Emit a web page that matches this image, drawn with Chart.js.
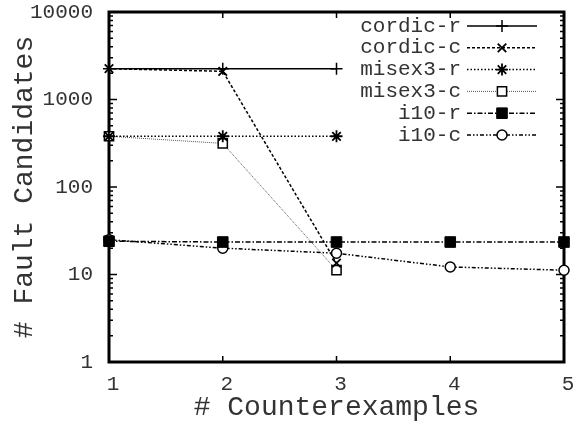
<!DOCTYPE html>
<html lang="en">
<head>
    <meta charset="UTF-8">
    <title>Fault Candidates</title>
    <script src="https://cdn.jsdelivr.net/npm/chart.js"></script>
    <style>
        html, body { margin: 0; padding: 0; background: #fff; }
        #wrap { width: 587px; height: 426px; }
    </style>
</head>
<body>
<div id="wrap"><canvas id="faultChart" width="587" height="426"></canvas></div>
<script>
// values
const counterexamples = [1, 2, 3, 4, 5];
const seriesNames = ['cordic-r', 'cordic-c', 'misex3-r', 'misex3-c', 'i10-r', 'i10-c'];
const cordicR = [2250, 2250, 2250];
const cordicC = [2250, 2100, 13.5];
const misex3R = [380, 380, 380];
const misex3C = [380, 315, 11.2];
const i10R = [24, 23.5, 23.5, 23.5, 23.5];
const i10C = [25, 20, 17.5, 12.2, 11.2];
const yTickValues = [1, 10, 100, 1000, 10000];

const monoFont = "'Liberation Mono', 'Courier New', Courier, 'Nimbus Mono PS', FreeMono, monospace";

function toPoints(values) {
    return values.map((v, i) => ({ x: counterexamples[i], y: v }));
}

const datasets = [
    { label: seriesNames[0], data: toPoints(cordicR), borderColor: '#000', borderWidth: 1.5, borderDash: [],
      pointStyle: 'cross', pointRadius: 6, pointBorderWidth: 1.5, pointBackgroundColor: '#000' },
    { label: seriesNames[1], data: toPoints(cordicC), borderColor: '#000', borderWidth: 1.5, borderDash: [3, 2],
      pointStyle: 'crossRot', pointRadius: 6, pointBorderWidth: 1.8, pointBackgroundColor: '#000' },
    { label: seriesNames[2], data: toPoints(misex3R), borderColor: '#000', borderWidth: 1.5, borderDash: [1.5, 2],
      pointStyle: 'star', pointRadius: 6, pointBorderWidth: 1.8, pointBackgroundColor: '#000' },
    { label: seriesNames[3], data: toPoints(misex3C), borderColor: '#555', borderWidth: 1, borderDash: [1, 1],
      pointStyle: 'rect', pointRadius: 6.5, pointBorderWidth: 1.5, pointBorderColor: '#000', pointBackgroundColor: '#fff' },
    { label: seriesNames[4], data: toPoints(i10R), borderColor: '#000', borderWidth: 1.5, borderDash: [5, 2, 1.5, 2],
      pointStyle: 'rect', pointRadius: 7.5, pointBorderWidth: 1, pointBackgroundColor: '#000' },
    { label: seriesNames[5], data: toPoints(i10C), borderColor: '#000', borderWidth: 1.5, borderDash: [4, 2, 1.5, 2, 1.5, 2],
      pointStyle: 'circle', pointRadius: 5, pointBorderWidth: 1.5, pointBackgroundColor: '#fff' }
];
datasets.forEach(d => { d.fill = false; d.tension = 0; d.clip = false; if (!d.pointBorderColor) d.pointBorderColor = '#000'; });

// frame, inward ticks and the key, drawn in gnuplot style
const framePlugin = {
    id: 'frame',
    beforeDatasetsDraw(chart) {
        const ctx = chart.ctx;
        const a = chart.chartArea;
        const xs = chart.scales.x, ys = chart.scales.y;
        ctx.save();
        ctx.strokeStyle = '#000';
        ctx.lineWidth = 1.5;
        ctx.beginPath();
        // x ticks
        counterexamples.forEach(v => {
            const px = xs.getPixelForValue(v);
            ctx.moveTo(px, a.bottom); ctx.lineTo(px, a.bottom - 6);
            ctx.moveTo(px, a.top); ctx.lineTo(px, a.top + 6);
        });
        // y ticks, major and minor
        for (let dec = 1; dec < 10000; dec *= 10) {
            for (let m = 1; m < 10; m++) {
                const py = ys.getPixelForValue(dec * m);
                const len = m === 1 ? 8 : 4;
                ctx.moveTo(a.left, py); ctx.lineTo(a.left + len, py);
                ctx.moveTo(a.right, py); ctx.lineTo(a.right - len, py);
            }
        }
        ctx.stroke();
        ctx.lineWidth = 3;
        ctx.strokeRect(a.left, a.top, a.right - a.left, a.bottom - a.top);
        ctx.restore();
    },
    afterDatasetsDraw(chart) {
        const ctx = chart.ctx;
        ctx.save();
        ctx.font = '21px ' + monoFont;
        ctx.textAlign = 'right';
        ctx.textBaseline = 'middle';
        chart.data.datasets.forEach((d, i) => {
            const y = 26 + i * 21.8;
            ctx.fillStyle = '#333';
            ctx.fillText(d.label, 461, y);
            ctx.strokeStyle = d.borderColor;
            ctx.lineWidth = d.borderWidth;
            ctx.setLineDash(d.borderDash);
            ctx.beginPath();
            ctx.moveTo(467, y); ctx.lineTo(537, y);
            ctx.stroke();
            ctx.setLineDash([]);
            ctx.strokeStyle = d.pointBorderColor;
            ctx.fillStyle = d.pointBackgroundColor;
            ctx.lineWidth = d.pointBorderWidth;
            Chart.helpers.drawPoint(ctx, {
                pointStyle: d.pointStyle, radius: d.pointRadius, rotation: 0, borderWidth: d.pointBorderWidth
            }, 502, y);
        });
        ctx.restore();
    }
};

const ctx = document.getElementById('faultChart').getContext('2d');
const faultChart = new Chart(ctx, {
    type: 'line',
    data: { datasets: datasets },
    options: {
        responsive: false,
        animation: false,
        layout: { padding: { top: 12, right: 23, left: 0, bottom: 0 } },
        plugins: { legend: { display: false }, tooltip: { enabled: false } },
        scales: {
            x: {
                type: 'linear',
                min: 1, max: 5,
                grid: { display: false, drawTicks: false },
                border: { display: false },
                afterBuildTicks: scale => { scale.ticks = counterexamples.map(v => ({ value: v })); },
                afterFit: scale => { scale.height = 64; scale.paddingLeft = 0; scale.paddingRight = 0; },
                ticks: {
                    color: '#333', padding: 10, labelOffset: 4,
                    font: { family: monoFont, size: 21 },
                    callback: v => String(v)
                },
                title: {
                    display: true, text: '# Counterexamples', color: '#333',
                    font: { family: monoFont, size: 28, lineHeight: 1 },
                    padding: { top: 0, bottom: 4 }
                }
            },
            y: {
                type: 'logarithmic',
                min: 1, max: 10000,
                grid: { display: false, drawTicks: false },
                border: { display: false },
                afterBuildTicks: scale => { scale.ticks = yTickValues.map(v => ({ value: v })); },
                afterFit: scale => { scale.width = 109; scale.paddingTop = 0; scale.paddingBottom = 0; },
                ticks: {
                    color: '#333', padding: 16,
                    font: { family: monoFont, size: 21 },
                    callback: v => String(v)
                },
                title: {
                    display: true, text: '# Fault Candidates', color: '#333',
                    font: { family: monoFont, size: 28, lineHeight: 1 },
                    padding: { top: 11, bottom: 0 }
                }
            }
        }
    },
    plugins: [framePlugin]
});
</script>
</body>
</html>
